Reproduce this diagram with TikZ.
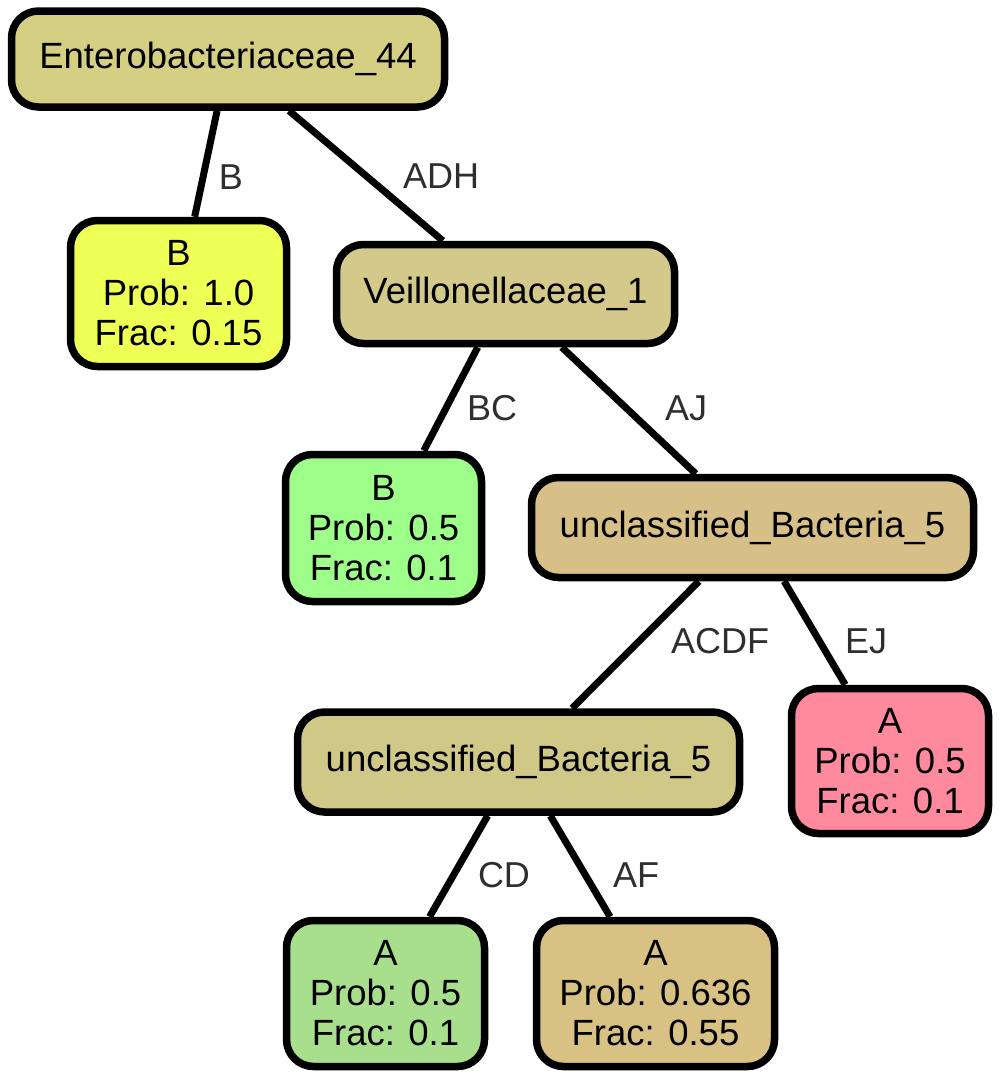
\documentclass[tikz,border=0pt]{standalone}
\usepackage{fontspec}
\setmainfont{Liberation Sans}
\begin{document}
\begin{tikzpicture}[x=1pt,y=-1pt,
  tn/.style={draw=black, line width=7.5pt, rounded corners=27pt, align=center, font=\fontsize{36.5}{40}\selectfont, inner sep=0pt},
  ed/.style={draw=black, line width=7pt},
  el/.style={font=\fontsize{36}{40}\selectfont, text=black!82}]
\useasboundingbox (0,0) rectangle (999,1079);
\definecolor{cEnt}{HTML}{D4CF82}
\definecolor{cB1}{HTML}{EEFF55}
\definecolor{cVei}{HTML}{D2C98A}
\definecolor{cB2}{HTML}{9DFF8A}
\definecolor{cU1}{HTML}{D7C088}
\definecolor{cU2}{HTML}{D0C886}
\definecolor{cA1}{HTML}{FF8A9E}
\definecolor{cA2}{HTML}{A8DF8C}
\definecolor{cA3}{HTML}{D8C283}
\node[tn, fill=cEnt, minimum width=433pt, minimum height=96pt] (ent) at (228,59) {Enterobacteriaceae\_44};
\node[tn, fill=cB1, minimum width=216pt, minimum height=146pt] (b1) at (178.5,293.5) {B\\Prob: 1.0\\Frac: 0.15};
\node[tn, fill=cVei, minimum width=338pt, minimum height=99pt] (vei) at (505.5,294) {Veillonellaceae\_1};
\node[tn, fill=cB2, minimum width=196pt, minimum height=147pt] (b2) at (383.5,528) {B\\Prob: 0.5\\Frac: 0.1};
\node[tn, fill=cU1, minimum width=442pt, minimum height=100pt] (u1) at (752.5,527.5) {unclassified\_Bacteria\_5};
\node[tn, fill=cU2, minimum width=442pt, minimum height=100pt] (u2) at (518.5,762) {unclassified\_Bacteria\_5};
\node[tn, fill=cA1, minimum width=197pt, minimum height=145pt] (a1) at (890,761) {A\\Prob: 0.5\\Frac: 0.1};
\node[tn, fill=cA2, minimum width=198pt, minimum height=146pt] (a2) at (385.5,993.5) {A\\Prob: 0.5\\Frac: 0.1};
\node[tn, fill=cA3, minimum width=238pt, minimum height=146pt] (a3) at (655.5,993.5) {A\\Prob: 0.636\\Frac: 0.55};
\draw[ed] (ent) -- (b1);
\draw[ed] (ent) -- (vei);
\draw[ed] (vei) -- (b2);
\draw[ed] (vei) -- (u1);
\draw[ed] (u1) -- (u2);
\draw[ed] (u1) -- (a1);
\draw[ed] (u2) -- (a2);
\draw[ed] (u2) -- (a3);
\node[el] (lb) at (231,177) {B};
\node[el] (ladh) at (441,176) {ADH};
\node[el] (lbc) at (492,408) {BC};
\node[el] (laj) at (686,408) {AJ};
\node[el] (lacdf) at (720,641) {ACDF};
\node[el] (lej) at (866,641) {EJ};
\node[el] (lcd) at (504,875) {CD};
\node[el] (laf) at (636,875) {AF};
\end{tikzpicture}
\end{document}
